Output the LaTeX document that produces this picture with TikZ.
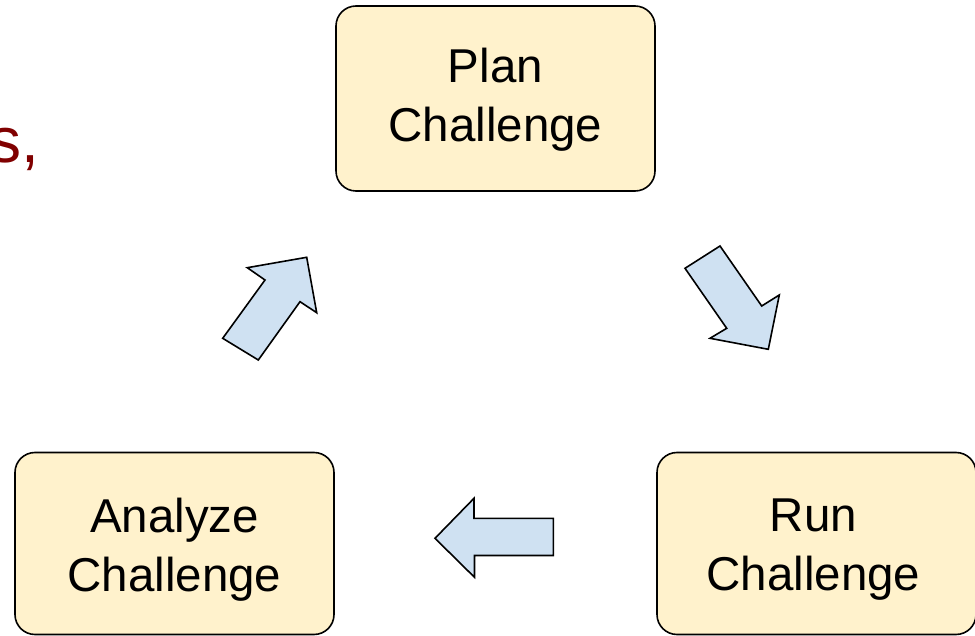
\documentclass[tikz,border=0pt]{standalone}
\usepackage{fontspec}
\setmainfont{Liberation Sans}
\definecolor{boxfill}{RGB}{255,242,204}
\definecolor{arrowfill}{RGB}{207,225,242}
\definecolor{darkred}{RGB}{128,0,0}
\begin{document}
\begin{tikzpicture}[x=1pt,y=-1pt,
  stagebox/.style={draw=black,line width=1.6pt,fill=boxfill,rounded corners=20pt,
    minimum width=319pt,minimum height=182pt,inner sep=0pt},
  stagetext/.style={align=center,inner sep=0pt,font=\fontsize{47.5}{59.5}\selectfont},
  blockarrow/.style={draw=black,line width=1.6pt,fill=arrowfill,line join=miter}]
\useasboundingbox (0,0) rectangle (975,636);
\node[anchor=base east,inner sep=0pt,text=darkred,font=\fontsize{64}{70}\selectfont] (frag) at (39,163) {s,};
\node[stagebox,minimum height=185pt] (plan) at (495.5,98.5) {};
\node[stagetext] (plantext) at ([yshift=-1pt]plan.center) {Plan\\Challenge};
\node[stagebox] (run) at (816.5,543.5) {};
\node[stagetext] (runtext) at ([xshift=-3pt,yshift=-6pt]run.center) {Run\\Challenge};
\node[stagebox] (analyze) at (174.5,543.5) {};
\node[stagetext] (analyzetext) at ([yshift=-6pt]analyze.center) {Analyze\\Challenge};
% arrow plan -> run
\draw[blockarrow] (685,268.3) -- (720,246) -- (761.7,306) -- (779.3,295) -- (768.3,349.3) -- (710,338.3) -- (726.7,328.3) -- cycle;
% arrow run -> analyze
\draw[blockarrow] (435,538.3) -- (474,498.3) -- (474,518.3) -- (553.3,518.3) -- (553.3,555.5) -- (474.5,555.5) -- (474.5,577.3) -- cycle;
% arrow analyze -> plan
\draw[blockarrow] (222.7,338.3) -- (258.3,360) -- (300,301.7) -- (316.7,312.7) -- (306.7,257.3) -- (247.3,267.7) -- (265,280) -- cycle;
\end{tikzpicture}
\end{document}
